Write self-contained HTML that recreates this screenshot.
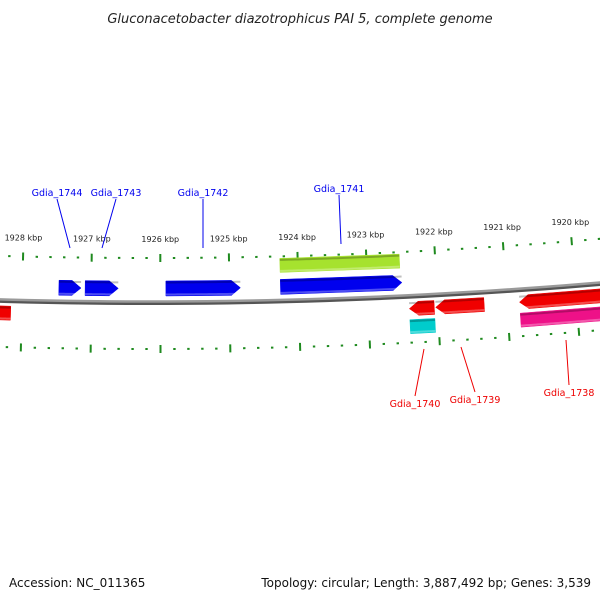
<!DOCTYPE html>
<html><head><meta charset="utf-8"><style>
html,body{margin:0;padding:0;background:#fff;}
svg{display:block;font-family:"DejaVu Sans","Liberation Sans",sans-serif;}
</style></head><body>
<svg id="map" width="600" height="600" viewBox="0 0 600 600" xmlns="http://www.w3.org/2000/svg">
<text x="300" y="23" text-anchor="middle" font-size="13" font-style="italic" fill="#222">Gluconacetobacter diazotrophicus PAI 5, complete genome</text>
<text x="9" y="587" font-size="12" fill="#111">Accession: NC_011365</text>
<text x="591" y="587" text-anchor="end" font-size="12" fill="#111">Topology: circular; Length: 3,887,492 bp; Genes: 3,539</text>
<g id="layer"></g>
</svg>
<script>
// ---- data ----
const geneNames  = ["Gdia_1744","Gdia_1743","Gdia_1742","Gdia_1741","Gdia_1741b","Gdia_1740","Gdia_1740b","Gdia_1739","Gdia_1738","Gdia_1738b","Gdia_1745"];
const geneStarts = [1927.47,1927.09,1925.92,1924.26,1924.26,1922.41,1922.41,1922.03,1920.82,1920.82,1928.50];
const geneEnds   = [1927.15,1926.61,1924.84,1922.50,1922.52,1922.05,1922.05,1921.33,1919.40,1919.40,1928.16];
const geneStrand = [1,1,1,1,0,-1,0,-1,-1,0,-1];
const geneTrack  = ["fwd","fwd","fwd","fwd","fwd2","rev","rev2","rev","rev","rev2","rev"];
const geneColors = ["#0000ee","#0000ee","#0000ee","#0000ee","#a6e22e","#f00000","#00cccc","#f00000","#f00000","#ee1188","#f00000"];
const tickMajor  = [1929,1928,1927,1926,1925,1924,1923,1922,1921,1920,1919];
const tickLabels = ["","1928 kbp","1927 kbp","1926 kbp","1925 kbp","1924 kbp","1923 kbp","1922 kbp","1921 kbp","1920 kbp",""];
const labelNames = ["Gdia_1744","Gdia_1743","Gdia_1742","Gdia_1741","Gdia_1740","Gdia_1739","Gdia_1738"];

// ---- geometry ----
const R = 5330, CX = 150, CY = 302 - R, PXK = 69.2, X0 = 22;
function ang(kbp){ return ((X0 + (1928 - kbp) * PXK) - CX) / R; }
function pt(kbp, off){ const a = ang(kbp), r = R - off; return [CX + r*Math.sin(a), CY + r*Math.cos(a)]; }
const NS = "http://www.w3.org/2000/svg";
const layer = document.getElementById('layer');
function mk(tag, attrs){ const e = document.createElementNS(NS, tag); for (const k in attrs) e.setAttribute(k, attrs[k]); layer.appendChild(e); return e; }
function arcPath(k1, k2, off){ let d = ""; const n = 40; for (let i=0;i<=n;i++){ const k = k1 + (k2-k1)*i/n; const p = pt(k, off); d += (i?"L":"M") + p[0].toFixed(2) + "," + p[1].toFixed(2); } return d; }

// backbone
let bb = mk('path', {d: arcPath(1930.5, 1919.0, -1.5), stroke:"#555", "stroke-width":3, fill:"none"});


bb = mk('path', {d: arcPath(1930.5, 1919.0, 0.5), stroke:"#9a9a9a", "stroke-width":2.5, fill:"none"});



// ticks
const tickColor = "#1f8a1f";
for (let i=0;i<tickMajor.length-1;i++){
  for (let j=0;j<5;j++){
    const k = tickMajor[i] - j*0.2;
    const major = j===0;
    [44, -47].forEach((c, ri)=>{
      const h = major ? 4 : 1;
      const a = pt(k, c-h), b = pt(k, c+h);
      const t = mk('line', {x1:a[0],y1:a[1],x2:b[0],y2:b[1],stroke:tickColor,"stroke-width":major?2:2.4});
      
      
    });
  }
  if (tickLabels[i]){
    const p = pt(tickMajor[i], 60);
    const t = mk('text', {x:p[0], y:p[1], "text-anchor":"middle", "font-size":"8", fill:"#222"});
    t.textContent = tickLabels[i];
    
    
  }
}

// genes
const tracks = {fwd:[6,21], fwd2:[28,42], rev:[-6,-20], rev2:[-24,-38]};
const headKbp = 9/PXK;
for (let i=0;i<geneNames.length;i++){
  const [o1,o2] = tracks[geneTrack[i]];
  const s = geneStarts[i], e = geneEnds[i], st = geneStrand[i];
  let pts = [];
  if (st === 1){
    const hb = e + headKbp;
    pts = [pt(s,o1), pt(hb,o1), pt(e,(o1+o2)/2), pt(hb,o2), pt(s,o2)];
  } else if (st === -1){
    const hb = s - headKbp;
    pts = [pt(hb,o1), pt(e,o1), pt(e,o2), pt(hb,o2), pt(s,(o1+o2)/2)];
  } else {
    pts = [pt(s,o1), pt(e,o1), pt(e,o2), pt(s,o2)];
  }
  const g = mk('polygon', {points: pts.map(p=>p[0].toFixed(2)+","+p[1].toFixed(2)).join(" "), fill: geneColors[i], stroke: geneColors[i], "stroke-width":0.5});
  
  
  const hi = mk('path', {d: arcPath(s, e, Math.max(o1,o2) - 1.5), stroke:"rgba(0,0,0,0.25)", "stroke-width":2, fill:"none"});
  
  
  const lo = mk('path', {d: arcPath(s, e, Math.min(o1,o2) + 1.5), stroke:"rgba(255,255,255,0.3)", "stroke-width":2, fill:"none"});
  
  
}

// labels
const labelPos = [[57,196,70,248],[116,196,102,248],[203,196,203,248],[339,192,341,244],[415,407,424,349],[475,403,461,347],[569,396,566,340]];
for (let i=0;i<labelNames.length;i++){
  const L = labelPos[i];
  const up = i < 4;
  const col = up ? "#0000ee" : "#ee0000";
  const ln = mk('line', {x1:L[0], y1: up ? L[1]+3 : L[1]-11, x2:L[2], y2:L[3], stroke:col, "stroke-width":1});
  
  
  const t = mk('text', {x:L[0], y:L[1], "text-anchor":"middle", "font-size":"9.5", fill:col});
  t.textContent = labelNames[i];
  
  
}
</script>
</body></html>
